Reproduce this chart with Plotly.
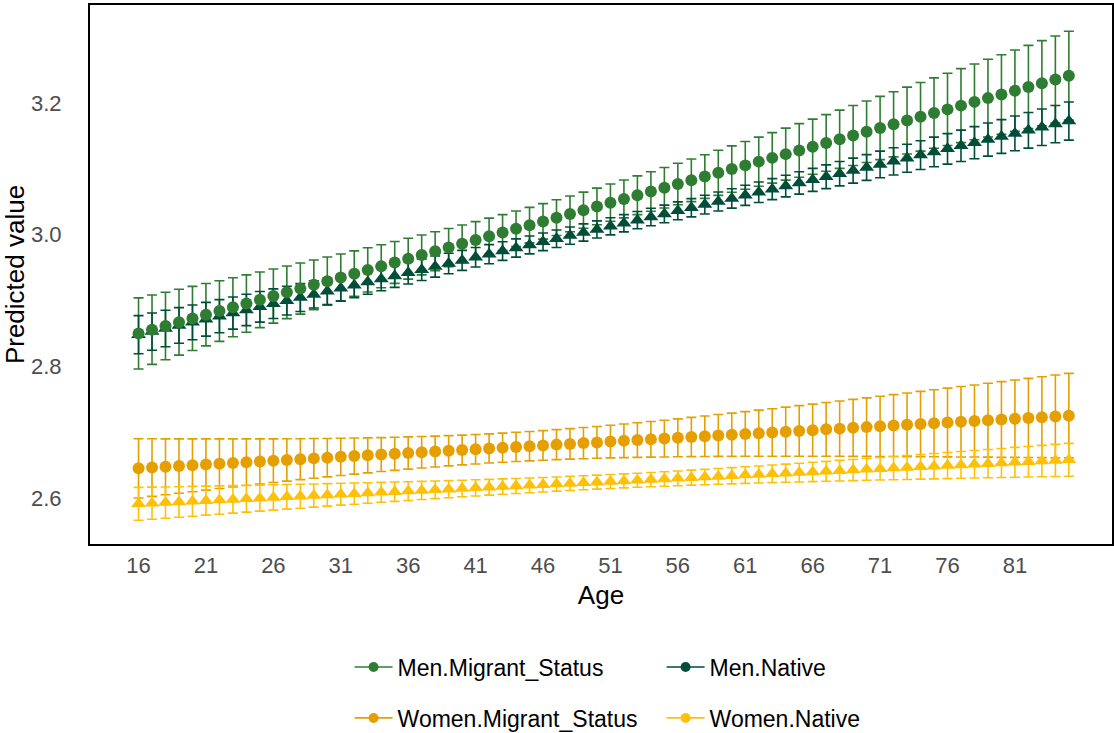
import plotly.graph_objects as go

# Age categories
ages = [16, 17, 18, 19, 20, 21, 22, 23, 24, 25,
        26, 27, 28, 29, 30, 31, 32, 33, 34, 35,
        36, 37, 38, 39, 40, 41, 42, 43, 44, 45,
        46, 47, 48, 49, 50, 51, 52, 53, 54, 55,
        56, 57, 58, 59, 60, 61, 62, 63, 64, 65,
        66, 67, 68, 69, 70, 71, 72, 73, 74, 75,
        76, 77, 78, 79, 80, 81, 82, 83, 84, 85]
x_ticks = [16, 21, 26, 31, 36, 41, 46, 51, 56, 61, 66, 71, 76, 81]
y_ticks = [2.6, 2.8, 3.0, 3.2]

# Predicted values and half-widths of the confidence intervals
men_migrant = [2.8500, 2.8557, 2.8613, 2.8670, 2.8727, 2.8784, 2.8840, 2.8897, 2.8954, 2.9011,
               2.9067, 2.9124, 2.9181, 2.9238, 2.9294, 2.9351, 2.9408, 2.9465, 2.9521, 2.9578,
               2.9635, 2.9692, 2.9748, 2.9805, 2.9862, 2.9919, 2.9975, 3.0032, 3.0089, 3.0145,
               3.0202, 3.0259, 3.0316, 3.0372, 3.0429, 3.0486, 3.0543, 3.0599, 3.0656, 3.0713,
               3.0770, 3.0826, 3.0883, 3.0940, 3.0997, 3.1053, 3.1110, 3.1167, 3.1224, 3.1280,
               3.1337, 3.1394, 3.1450, 3.1507, 3.1564, 3.1621, 3.1677, 3.1734, 3.1791, 3.1848,
               3.1904, 3.1961, 3.2018, 3.2075, 3.2131, 3.2188, 3.2245, 3.2302, 3.2358, 3.2415]
men_migrant_ci = [0.0540, 0.0527, 0.0513, 0.0500, 0.0487, 0.0474, 0.0461, 0.0448, 0.0436, 0.0423,
                  0.0411, 0.0400, 0.0388, 0.0377, 0.0366, 0.0356, 0.0346, 0.0336, 0.0327, 0.0318,
                  0.0310, 0.0303, 0.0296, 0.0290, 0.0285, 0.0280, 0.0276, 0.0273, 0.0271, 0.0270,
                  0.0270, 0.0271, 0.0272, 0.0275, 0.0278, 0.0283, 0.0288, 0.0294, 0.0300, 0.0307,
                  0.0315, 0.0323, 0.0332, 0.0342, 0.0352, 0.0362, 0.0373, 0.0384, 0.0395, 0.0407,
                  0.0419, 0.0431, 0.0443, 0.0456, 0.0468, 0.0481, 0.0494, 0.0508, 0.0521, 0.0535,
                  0.0548, 0.0562, 0.0576, 0.0590, 0.0604, 0.0618, 0.0632, 0.0647, 0.0661, 0.0675]

men_native = [2.8480, 2.8527, 2.8574, 2.8621, 2.8668, 2.8715, 2.8762, 2.8809, 2.8856, 2.8904,
              2.8951, 2.8998, 2.9045, 2.9092, 2.9139, 2.9186, 2.9233, 2.9280, 2.9327, 2.9374,
              2.9421, 2.9468, 2.9515, 2.9562, 2.9609, 2.9657, 2.9704, 2.9751, 2.9798, 2.9845,
              2.9892, 2.9939, 2.9986, 3.0033, 3.0080, 3.0127, 3.0174, 3.0221, 3.0268, 3.0315,
              3.0362, 3.0409, 3.0457, 3.0504, 3.0551, 3.0598, 3.0645, 3.0692, 3.0739, 3.0786,
              3.0833, 3.0880, 3.0927, 3.0974, 3.1021, 3.1068, 3.1115, 3.1162, 3.1209, 3.1257,
              3.1304, 3.1351, 3.1398, 3.1445, 3.1492, 3.1539, 3.1586, 3.1633, 3.1680, 3.1727]
men_native_ci = [0.0290, 0.0283, 0.0277, 0.0270, 0.0264, 0.0257, 0.0251, 0.0244, 0.0238, 0.0232,
                 0.0225, 0.0219, 0.0213, 0.0207, 0.0202, 0.0196, 0.0190, 0.0185, 0.0180, 0.0175,
                 0.0170, 0.0165, 0.0160, 0.0156, 0.0152, 0.0148, 0.0145, 0.0142, 0.0139, 0.0136,
                 0.0134, 0.0133, 0.0131, 0.0131, 0.0130, 0.0130, 0.0131, 0.0131, 0.0133, 0.0134,
                 0.0136, 0.0139, 0.0142, 0.0145, 0.0148, 0.0152, 0.0156, 0.0160, 0.0165, 0.0170,
                 0.0175, 0.0180, 0.0185, 0.0190, 0.0196, 0.0202, 0.0207, 0.0213, 0.0219, 0.0225,
                 0.0232, 0.0238, 0.0244, 0.0251, 0.0257, 0.0264, 0.0270, 0.0277, 0.0283, 0.0290]

women_migrant = [2.6450, 2.6462, 2.6473, 2.6485, 2.6496, 2.6508, 2.6520, 2.6531, 2.6543, 2.6554,
                 2.6566, 2.6578, 2.6589, 2.6601, 2.6612, 2.6624, 2.6636, 2.6647, 2.6659, 2.6670,
                 2.6682, 2.6694, 2.6705, 2.6717, 2.6728, 2.6740, 2.6752, 2.6763, 2.6775, 2.6786,
                 2.6798, 2.6810, 2.6821, 2.6833, 2.6844, 2.6856, 2.6868, 2.6879, 2.6891, 2.6902,
                 2.6914, 2.6926, 2.6937, 2.6949, 2.6960, 2.6972, 2.6984, 2.6995, 2.7007, 2.7018,
                 2.7030, 2.7042, 2.7053, 2.7065, 2.7076, 2.7088, 2.7100, 2.7111, 2.7123, 2.7134,
                 2.7146, 2.7158, 2.7169, 2.7181, 2.7192, 2.7204, 2.7216, 2.7227, 2.7239, 2.7250]
women_migrant_ci = [0.0450, 0.0438, 0.0425, 0.0413, 0.0401, 0.0389, 0.0377, 0.0366, 0.0354, 0.0343,
                    0.0332, 0.0322, 0.0311, 0.0301, 0.0292, 0.0283, 0.0274, 0.0266, 0.0258, 0.0251,
                    0.0245, 0.0239, 0.0234, 0.0230, 0.0226, 0.0224, 0.0222, 0.0221, 0.0222, 0.0223,
                    0.0225, 0.0228, 0.0232, 0.0237, 0.0242, 0.0248, 0.0255, 0.0263, 0.0271, 0.0279,
                    0.0288, 0.0298, 0.0307, 0.0318, 0.0328, 0.0339, 0.0350, 0.0361, 0.0373, 0.0384,
                    0.0396, 0.0408, 0.0420, 0.0433, 0.0445, 0.0458, 0.0470, 0.0483, 0.0496, 0.0509,
                    0.0522, 0.0535, 0.0548, 0.0561, 0.0575, 0.0588, 0.0601, 0.0615, 0.0628, 0.0642]

women_native = [2.5910, 2.5920, 2.5929, 2.5939, 2.5949, 2.5959, 2.5968, 2.5978, 2.5988, 2.5997,
                2.6007, 2.6017, 2.6026, 2.6036, 2.6046, 2.6056, 2.6065, 2.6075, 2.6085, 2.6094,
                2.6104, 2.6114, 2.6123, 2.6133, 2.6143, 2.6153, 2.6162, 2.6172, 2.6182, 2.6191,
                2.6201, 2.6211, 2.6220, 2.6230, 2.6240, 2.6250, 2.6259, 2.6269, 2.6279, 2.6288,
                2.6298, 2.6308, 2.6317, 2.6327, 2.6337, 2.6347, 2.6356, 2.6366, 2.6376, 2.6385,
                2.6395, 2.6405, 2.6414, 2.6424, 2.6434, 2.6444, 2.6453, 2.6463, 2.6473, 2.6482,
                2.6492, 2.6502, 2.6511, 2.6521, 2.6531, 2.6541, 2.6550, 2.6560, 2.6570, 2.6579]
women_native_ci = [0.0250, 0.0244, 0.0238, 0.0232, 0.0227, 0.0221, 0.0215, 0.0209, 0.0204, 0.0198,
                   0.0193, 0.0187, 0.0182, 0.0176, 0.0171, 0.0166, 0.0161, 0.0156, 0.0151, 0.0147,
                   0.0142, 0.0138, 0.0134, 0.0130, 0.0126, 0.0123, 0.0120, 0.0117, 0.0114, 0.0112,
                   0.0110, 0.0108, 0.0107, 0.0106, 0.0106, 0.0106, 0.0106, 0.0107, 0.0108, 0.0110,
                   0.0112, 0.0114, 0.0117, 0.0120, 0.0123, 0.0126, 0.0130, 0.0134, 0.0138, 0.0142,
                   0.0147, 0.0151, 0.0156, 0.0161, 0.0166, 0.0171, 0.0176, 0.0182, 0.0187, 0.0193,
                   0.0198, 0.0204, 0.0209, 0.0215, 0.0221, 0.0227, 0.0232, 0.0238, 0.0244, 0.0250]

FONT = "Liberation Sans, Arial, sans-serif"

series = [
    # name, values, ci, colour, symbol, legend
    ("Men.Migrant_Status", men_migrant, men_migrant_ci, "#2E7D32", "circle", "legend"),
    ("Men.Native", men_native, men_native_ci, "#004D3A", "triangle-up", "legend"),
    ("Women.Migrant_Status", women_migrant, women_migrant_ci, "#E69F00", "circle", "legend2"),
    ("Women.Native", women_native, women_native_ci, "#FFC107", "triangle-up", "legend2"),
]

fig = go.Figure()

# error bars first, so every marker sits above every bar
for name, vals, ci, col, sym, leg in series:
    fig.add_trace(go.Scatter(
        x=ages, y=vals, mode="markers",
        marker=dict(size=1, color="rgba(0,0,0,0)"),
        error_y=dict(type="data", array=ci, visible=True, color=col,
                     thickness=1.6, width=5),
        showlegend=False, hoverinfo="skip",
    ))

# points: triangles below, circles on top
for idx in (1, 3, 0, 2):
    name, vals, ci, col, sym, leg = series[idx]
    fig.add_trace(go.Scatter(
        x=ages, y=vals, mode="markers", name=name,
        marker=dict(symbol=sym, size=12 if sym == "circle" else 13, color=col,
                    line=dict(width=0)),
        showlegend=False,
    ))

# legend keys (line with a dot), two rows of two
for name, vals, ci, col, sym, leg in series:
    fig.add_trace(go.Scatter(
        x=[None], y=[None], mode="lines+markers", name=name,
        line=dict(color=col, width=1.6),
        marker=dict(symbol="circle", size=10, color=col),
        legend=leg,
    ))

legend_common = dict(
    orientation="h", xanchor="left", yanchor="middle",
    xref="paper", yref="container",
    font=dict(family=FONT, size=23, color="black"),
    itemwidth=38,
    entrywidth=259, entrywidthmode="pixels",
    bgcolor="rgba(0,0,0,0)", itemclick=False, itemdoubleclick=False,
)

fig.update_layout(
    width=1114, height=733,
    margin=dict(l=90, r=2, t=5, b=189),
    paper_bgcolor="white", plot_bgcolor="white",
    font=dict(family=FONT),
    showlegend=True,
    legend=dict(x=0.254, y=0.090, **legend_common),
    legend2=dict(x=0.254, y=0.0205, **legend_common),
    xaxis=dict(
        range=[12.4, 88.2], tickmode="array", tickvals=x_ticks,
        showgrid=False, zeroline=False,
        showline=True, linecolor="black", linewidth=2, mirror=True,
        ticks="", ticklabelstandoff=1,
        tickfont=dict(family=FONT, size=22, color="#4D4D4D"),
        title=dict(text="Age", font=dict(family=FONT, size=26, color="black"), standoff=8),
        automargin=False,
    ),
    yaxis=dict(
        range=[2.530, 3.349], tickmode="array", tickvals=y_ticks,
        tickformat=".1f",
        showgrid=False, zeroline=False,
        showline=True, linecolor="black", linewidth=2, mirror=True,
        ticks="", ticklabelstandoff=22,
        tickfont=dict(family=FONT, size=22, color="#4D4D4D"),
        title=dict(text="Predicted value", font=dict(family=FONT, size=26, color="black"), standoff=1),
        automargin=False,
    ),
)

fig.write_html("out.html")
